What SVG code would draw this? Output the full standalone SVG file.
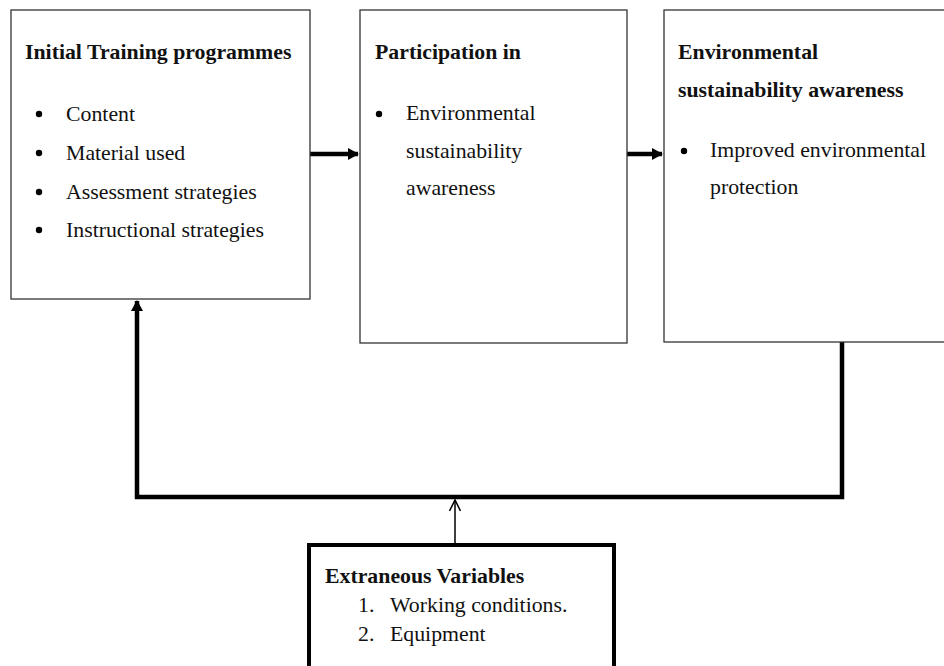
<svg xmlns="http://www.w3.org/2000/svg" width="944" height="666" viewBox="0 0 944 666">
<defs>
<style>
.box{fill:#fff;stroke:#333;stroke-width:1.3}
.bbox{fill:#fff;stroke:#000;stroke-width:4}
text{font-family:"Liberation Serif","Times New Roman",serif;font-size:21.8px;fill:#111}
.b{font-weight:bold}
.dot{fill:#000}
.thick{stroke:#000;stroke-width:4.5;fill:none}
.thin{stroke:#000;stroke-width:1.5;fill:none}
</style>
<marker id="ah" markerWidth="12" markerHeight="12" refX="10" refY="6" orient="auto" markerUnits="userSpaceOnUse">
<path d="M0,0 L11,6 L0,12 z" fill="#000"/>
</marker>
<marker id="oa" markerWidth="14" markerHeight="12" refX="12" refY="6" orient="auto" markerUnits="userSpaceOnUse">
<path d="M1,0.5 L12,6 L1,11.5" fill="none" stroke="#000" stroke-width="1.5"/>
</marker>
</defs>
<rect width="944" height="666" fill="#fff"/>
<g id="connectors">
<line class="thick" x1="310" y1="154" x2="358" y2="154" marker-end="url(#ah)"/>
<line class="thick" x1="627" y1="154" x2="662" y2="154" marker-end="url(#ah)"/>
<polyline class="thick" points="842,342 842,497 137,497 137,301" marker-end="url(#ah)"/>
<line class="thin" x1="455" y1="543" x2="455" y2="500" marker-end="url(#oa)"/>
</g>
<g id="node-training">
<rect class="box" x="11" y="10" width="299" height="289"/>
<text class="b" x="25" y="59">Initial Training programmes</text>
<circle class="dot" cx="39" cy="114" r="3.2"/><text x="66" y="121">Content</text>
<circle class="dot" cx="39" cy="153" r="3.2"/><text x="66" y="160">Material used</text>
<circle class="dot" cx="39" cy="192" r="3.2"/><text x="66" y="199">Assessment strategies</text>
<circle class="dot" cx="39" cy="230" r="3.2"/><text x="66" y="237">Instructional strategies</text>
</g>
<g id="node-participation">
<rect class="box" x="360" y="10" width="267" height="333"/>
<text class="b" x="375" y="59">Participation in</text>
<circle class="dot" cx="379" cy="114" r="3.2"/><text x="406" y="120">Environmental</text>
<text x="406" y="158">sustainability</text>
<text x="406" y="195">awareness</text>
</g>
<g id="node-awareness">
<rect class="box" x="664" y="10" width="290" height="332"/>
<text class="b" x="678" y="59">Environmental</text>
<text class="b" x="678" y="97">sustainability awareness</text>
<circle class="dot" cx="684" cy="151" r="3.2"/><text x="710" y="157">Improved environmental</text>
<text x="710" y="194">protection</text>
</g>
<g id="node-extraneous">
<rect class="bbox" x="309" y="545" width="305" height="130"/>
<text class="b" x="325" y="583">Extraneous Variables</text>
<text x="358" y="612">1.</text><text x="390" y="612">Working conditions.</text>
<text x="358" y="641">2.</text><text x="390" y="641">Equipment</text>
</g>
</svg>
